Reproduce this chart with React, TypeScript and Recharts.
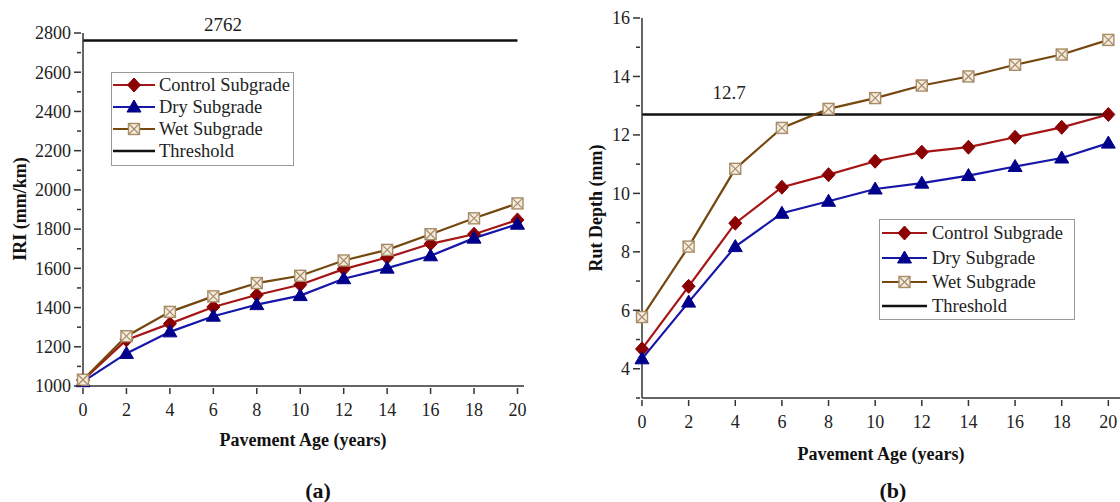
import React from 'react';
import { LineChart, Line, XAxis, YAxis } from 'recharts';

// pavement age, years
const ages = [0, 2, 4, 6, 8, 10, 12, 14, 16, 18, 20];

// (a) IRI, mm/km
const iriControl = [1030, 1235, 1318, 1403, 1464, 1516, 1596, 1655, 1725, 1774, 1847];
const iriDry = [1022, 1166, 1276, 1356, 1415, 1461, 1547, 1601, 1664, 1754, 1825];
const iriWet = [1032, 1254, 1378, 1457, 1525, 1562, 1640, 1694, 1774, 1855, 1931];
const iriThreshold = 2762;
const iriTicks = [1000, 1100, 1200, 1300, 1400, 1500, 1600, 1700, 1800, 1900, 2000, 2100, 2200, 2300, 2400, 2500, 2600, 2700, 2800];

// (b) rut depth, mm
const rutControl = [4.68, 6.82, 8.98, 10.21, 10.64, 11.1, 11.41, 11.58, 11.92, 12.26, 12.7];
const rutDry = [4.34, 6.28, 8.18, 9.32, 9.73, 10.15, 10.35, 10.61, 10.92, 11.21, 11.72];
const rutWet = [5.77, 8.18, 10.84, 12.24, 12.89, 13.26, 13.69, 14.0, 14.4, 14.75, 15.25];
const rutThreshold = 12.7;
const rutTicks = [3, 4, 5, 6, 7, 8, 9, 10, 11, 12, 13, 14, 15, 16];

const xTicks = [0, 2, 4, 6, 8, 10, 12, 14, 16, 18, 20];

const FONT = '"Liberation Serif", "Times New Roman", serif';
const AXIS = '#333';

const iriData = ages.map((age, i) => ({
  age,
  control: iriControl[i],
  dry: iriDry[i],
  wet: iriWet[i],
  threshold: iriThreshold,
}));

const rutData = ages.map((age, i) => ({
  age,
  control: rutControl[i],
  dry: rutDry[i],
  wet: rutWet[i],
  threshold: rutThreshold,
}));

const DiamondMark = ({ cx, cy }: { cx: number; cy: number }) => (
  <path
    d={`M${cx},${cy - 7} L${cx + 6.5},${cy} L${cx},${cy + 7} L${cx - 6.5},${cy} Z`}
    fill="#8B0000"
    stroke="#8B0000"
  />
);

const TriangleMark = ({ cx, cy }: { cx: number; cy: number }) => (
  <path
    d={`M${cx},${cy - 7} L${cx + 7},${cy + 5} L${cx - 7},${cy + 5} Z`}
    fill="#00008B"
    stroke="#00008B"
  />
);

const BoxXMark = ({ cx, cy }: { cx: number; cy: number }) => (
  <g>
    <rect x={cx - 5.5} y={cy - 5.5} width={11} height={11} fill="#F3ECE0" stroke="#A88C66" strokeWidth={1.4} />
    <path
      d={`M${cx - 5.5},${cy - 5.5} L${cx + 5.5},${cy + 5.5} M${cx + 5.5},${cy - 5.5} L${cx - 5.5},${cy + 5.5}`}
      stroke="#A88C66"
      strokeWidth={1.2}
    />
  </g>
);

const series = [
  { key: 'control', name: 'Control Subgrade', color: '#A51515', Mark: DiamondMark },
  { key: 'dry', name: 'Dry Subgrade', color: '#1616A8', Mark: TriangleMark },
  { key: 'wet', name: 'Wet Subgrade', color: '#74480F', Mark: BoxXMark },
];

const makeYTick = (major: (v: number) => boolean) => (props: any) => {
  const { x, y, payload } = props;
  const isMajor = major(payload.value);
  return (
    <g>
      <line x1={x - (isMajor ? 7 : 4)} y1={y} x2={x} y2={y} stroke={AXIS} strokeWidth={1.5} />
      {isMajor && (
        <text x={x - 10} y={y} dy="0.35em" textAnchor="end" fontSize={18} fontFamily={FONT} fill="#222">
          {payload.value}
        </text>
      )}
    </g>
  );
};

const XTick = (props: any) => {
  const { x, y, payload } = props;
  return (
    <g>
      <line x1={x} y1={y} x2={x} y2={y + 6} stroke={AXIS} strokeWidth={1.5} />
      <text x={x} y={y + 22} dy="0.35em" textAnchor="middle" fontSize={18} fontFamily={FONT} fill="#222">
        {payload.value}
      </text>
    </g>
  );
};

// legend box drawn in page coordinates
const LegendBox = (cfg: { x: number; y: number; w: number; h: number; rows: number[]; x1: number; x2: number; tx: number }) => (
  <g transform={`translate(${cfg.x},${cfg.y})`}>
    <rect x={0.5} y={0.5} width={cfg.w - 1} height={cfg.h - 1} fill="#fff" stroke="#9a9a9a" />
    {[...series, { key: 'threshold', name: 'Threshold', color: '#111', Mark: null as any }].map((s, i) => {
      const y = cfg.rows[i];
      const mx = (cfg.x1 + cfg.x2) / 2;
      return (
        <g key={s.key}>
          <line x1={cfg.x1} y1={y} x2={cfg.x2} y2={y} stroke={s.color} strokeWidth={s.key === 'threshold' ? 2.6 : 2.2} />
          {s.Mark && <s.Mark cx={mx} cy={y} />}
          <text x={cfg.tx} y={y} dy="0.35em" fontSize={18.5} fontFamily={FONT} fill="#222">
            {s.name}
          </text>
        </g>
      );
    })}
  </g>
);

const thresholdLabel = (text: string, dx: number, dy: number) => (props: any) => {
  if (props.index !== 0) return null;
  return (
    <text key="thr" x={props.x + dx} y={props.y + dy} textAnchor="middle" fontSize={19} fontFamily={FONT} fill="#222">
      {text}
    </text>
  );
};

const renderSeries = () =>
  series.map((s) => (
    <Line
      key={s.key}
      dataKey={s.key}
      name={s.name}
      stroke={s.color}
      strokeWidth={2.2}
      isAnimationActive={false}
      dot={(p: any) => <s.Mark key={`${s.key}-${p.index}`} cx={p.cx} cy={p.cy} />}
      activeDot={false}
    />
  ));

const App = () => {
  return (
    <div style={{ position: 'absolute', left: 0, top: 0, width: 1120, height: 502, background: '#fff', overflow: 'hidden' }}>
      <div style={{ position: 'absolute', left: 0, top: 0 }}>
        <LineChart width={540} height={502} data={iriData} margin={{ top: 33, right: 16, bottom: 0, left: 0 }}>
          <XAxis
            dataKey="age"
            type="number"
            domain={[0, 20.3]}
            ticks={xTicks}
            interval={0}
            height={116}
            tickSize={0}
            tickLine={false}
            tick={XTick}
            stroke={AXIS}
            strokeWidth={1.5}
          />
          <YAxis
            type="number"
            domain={[1000, 2800]}
            ticks={iriTicks}
            interval={0}
            width={83}
            tickSize={0}
            tickLine={false}
            tick={makeYTick((v) => v % 200 === 0)}
            stroke={AXIS}
            strokeWidth={1.5}
          />
          <Line
            dataKey="threshold"
            name="Threshold"
            stroke="#111"
            strokeWidth={2.6}
            dot={false}
            activeDot={false}
            isAnimationActive={false}
            label={thresholdLabel('2762', 140, -9)}
          />
          {renderSeries()}
        </LineChart>
      </div>

      <div style={{ position: 'absolute', left: 560, top: 0 }}>
        <LineChart width={560} height={502} data={rutData} margin={{ top: 18, right: 0, bottom: 0, left: 0 }}>
          <XAxis
            dataKey="age"
            type="number"
            domain={[0, 20.5]}
            ticks={xTicks}
            interval={0}
            height={104}
            tickSize={0}
            tickLine={false}
            tick={XTick}
            stroke={AXIS}
            strokeWidth={1.5}
          />
          <YAxis
            type="number"
            domain={[3, 16]}
            ticks={rutTicks}
            interval={0}
            width={82}
            tickSize={0}
            tickLine={false}
            tick={makeYTick((v) => v % 2 === 0)}
            stroke={AXIS}
            strokeWidth={1.5}
          />
          <Line
            dataKey="threshold"
            name="Threshold"
            stroke="#111"
            strokeWidth={2.6}
            dot={false}
            activeDot={false}
            isAnimationActive={false}
            label={thresholdLabel('12.7', 87, -15)}
          />
          {renderSeries()}
        </LineChart>
      </div>

      <svg width={1120} height={502} style={{ position: 'absolute', left: 0, top: 0, pointerEvents: 'none' }}>
        <LegendBox x={111} y={72} w={183} h={94} rows={[13, 35, 57, 79]} x1={2} x2={44} tx={48} />
        <LegendBox x={879} y={219} w={196} h={101} rows={[14, 39, 63, 87]} x1={3} x2={48} tx={53} />
        <g fontFamily={FONT} fontWeight="bold" fill="#111">
          <text x={20} y={209} transform="rotate(-90 20 209)" textAnchor="middle" dominantBaseline="central" fontSize={18}>
            IRI (mm/km)
          </text>
          <text x={596} y={208} transform="rotate(-90 596 208)" textAnchor="middle" dominantBaseline="central" fontSize={18}>
            Rut Depth (mm)
          </text>
          <text x={303} y={440} textAnchor="middle" dominantBaseline="central" fontSize={18}>
            Pavement Age (years)
          </text>
          <text x={881} y={454} textAnchor="middle" dominantBaseline="central" fontSize={18}>
            Pavement Age (years)
          </text>
          <text x={318} y={490} textAnchor="middle" dominantBaseline="central" fontSize={22}>
            (a)
          </text>
          <text x={893} y={490} textAnchor="middle" dominantBaseline="central" fontSize={22}>
            (b)
          </text>
        </g>
      </svg>
    </div>
  );
};

export default App;
